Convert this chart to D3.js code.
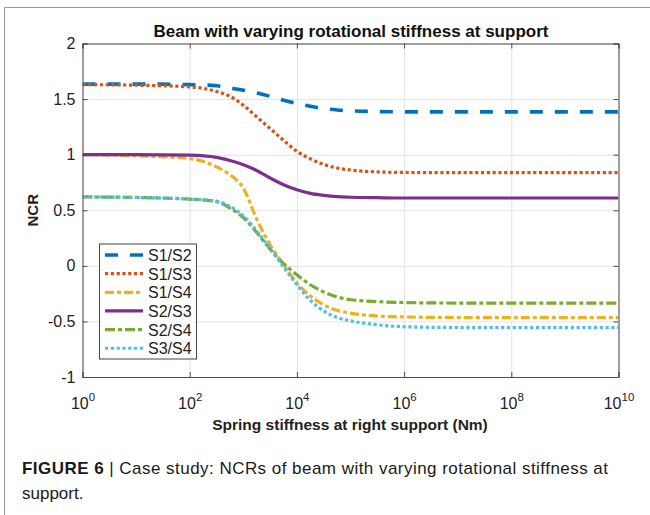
<!DOCTYPE html>
<html>
<head>
<meta charset="utf-8">
<script src="https://cdn.jsdelivr.net/npm/d3@7"></script>
<style>
  body { margin: 0; background: #fff; }
  svg { display: block; font-family: "Liberation Sans", Arial, sans-serif; }
</style>
</head>
<body>
<div id="plot"></div>
<script>
// exponents of the spring stiffness (10^k Nm) where values were read
const logK = [0, 1, 2, 2.5, 2.75, 3, 3.25, 3.5, 3.75, 4, 4.25, 4.5, 4.75, 5, 5.5, 6, 7, 8, 9, 10];

const s1s2 = [1.635, 1.635, 1.63, 1.62, 1.60, 1.58, 1.555, 1.525, 1.49, 1.46, 1.435, 1.415, 1.402, 1.395, 1.388, 1.385, 1.385, 1.385, 1.385, 1.385];
const s1s3 = [1.63, 1.625, 1.61, 1.568, 1.525, 1.445, 1.34, 1.235, 1.13, 1.03, 0.963, 0.912, 0.88, 0.862, 0.845, 0.84, 0.838, 0.838, 0.838, 0.838];
const s1s4 = [1.0, 0.99, 0.965, 0.89, 0.82, 0.70, 0.42, 0.19, 0.01, -0.155, -0.27, -0.351, -0.40, -0.425, -0.452, -0.46, -0.465, -0.466, -0.466, -0.466];
const s2s3 = [1.0, 1.0, 0.995, 0.975, 0.947, 0.91, 0.858, 0.79, 0.73, 0.685, 0.652, 0.634, 0.622, 0.617, 0.613, 0.61, 0.61, 0.61, 0.61, 0.61];
const s2s4 = [0.62, 0.615, 0.60, 0.578, 0.52, 0.435, 0.30, 0.15, 0.02, -0.08, -0.17, -0.235, -0.28, -0.305, -0.322, -0.33, -0.335, -0.336, -0.336, -0.336];
const s3s4 = [0.62, 0.615, 0.60, 0.582, 0.535, 0.45, 0.315, 0.155, -0.01, -0.17, -0.31, -0.405, -0.465, -0.495, -0.53, -0.548, -0.555, -0.556, -0.556, -0.556];

const seriesNames = ["S1/S2", "S1/S3", "S1/S4", "S2/S3", "S2/S4", "S3/S4"];
const seriesValues = [s1s2, s1s3, s1s4, s2s3, s2s4, s3s4];

const xTickExp = [0, 2, 4, 6, 8, 10];
const yTicks = [-1, -0.5, 0, 0.5, 1, 1.5, 2];

const styles = [
  { color: "#0072BD", dash: "13,12", width: 3.6 },
  { color: "#D95319", dash: "3.2,2.6", width: 3.2 },
  { color: "#EDB120", dash: "9,3,4,3", width: 3.2 },
  { color: "#7E2F8E", dash: null, width: 3.2 },
  { color: "#77AC30", dash: "10,3,4,3", width: 3.2 },
  { color: "#4DBEEE", dash: "3.2,2.6", width: 3.2 }
];

const W = 650, H = 515;
const pL = 82.5, pR = 618.5, pT = 43.5, pB = 377;

const svg = d3.select("#plot").append("svg")
  .attr("width", W)
  .attr("height", H);

svg.append("rect").attr("width", W).attr("height", H).attr("fill", "#fff");

// outer figure frame (cropped on the right and bottom)
svg.append("path")
  .attr("d", "M4.5," + H + "V7.5H" + W)
  .attr("fill", "none")
  .attr("stroke", "#999")
  .attr("stroke-width", 1);

const x = d3.scaleLog().domain([1, 1e10]).range([pL, pR]);
const y = d3.scaleLinear().domain([-1, 2]).range([pB, pT]);
const xTicks = xTickExp.map(e => Math.pow(10, e));

// grid
svg.append("g")
  .attr("class", "grid")
  .attr("transform", "translate(0," + pB + ")")
  .call(d3.axisBottom(x).tickValues(xTicks).tickSize(-(pB - pT)).tickFormat(""))
  .call(g => g.select(".domain").remove())
  .call(g => g.selectAll("line").attr("stroke", "#e3e3e3").attr("stroke-width", 1));
svg.append("g")
  .attr("class", "grid")
  .attr("transform", "translate(" + pL + ",0)")
  .call(d3.axisLeft(y).tickValues(yTicks).tickSize(-(pR - pL)).tickFormat(""))
  .call(g => g.select(".domain").remove())
  .call(g => g.selectAll("line").attr("stroke", "#e3e3e3").attr("stroke-width", 1));

// lines
const line = d3.line()
  .x((d, i) => x(Math.pow(10, logK[i])))
  .y(d => y(d))
  .curve(d3.curveMonotoneX);

svg.append("defs").append("clipPath").attr("id", "clip")
  .append("rect").attr("x", pL).attr("y", pT).attr("width", pR - pL).attr("height", pB - pT);

svg.append("g").attr("clip-path", "url(#clip)")
  .selectAll(".series")
  .data(seriesValues)
  .enter().append("path")
  .attr("class", "series")
  .attr("d", d => line(d))
  .attr("fill", "none")
  .attr("stroke", (d, i) => styles[i].color)
  .attr("stroke-width", (d, i) => styles[i].width)
  .attr("stroke-dasharray", (d, i) => styles[i].dash);

// axes box with inward ticks
const axisColor = "#4d4d4d";
const xb = svg.append("g").attr("class", "ax")
  .attr("transform", "translate(0," + pB + ")")
  .call(d3.axisBottom(x).tickValues(xTicks).tickSize(-5).tickPadding(9).tickFormat(""));
svg.append("g").attr("class", "ax")
  .attr("transform", "translate(0," + pT + ")")
  .call(d3.axisTop(x).tickValues(xTicks).tickSize(-5).tickFormat(""));
svg.append("g").attr("class", "ax")
  .attr("transform", "translate(" + pL + ",0)")
  .call(d3.axisLeft(y).tickValues(yTicks).tickSize(-5).tickPadding(7).tickFormat(d => String(d)))
  .call(g => g.selectAll("text").attr("font-size", 16).attr("fill", "#222")
    .attr("font-family", "'Liberation Sans', Arial, sans-serif"));
svg.append("g").attr("class", "ax")
  .attr("transform", "translate(" + pR + ",0)")
  .call(d3.axisRight(y).tickValues(yTicks).tickSize(-5).tickFormat(""));

svg.selectAll(".ax .domain").attr("stroke", axisColor);
svg.selectAll(".ax .tick line").attr("stroke", axisColor);

// x tick labels 10^k
xb.selectAll(".tick text").each(function(d) {
  const t = d3.select(this)
    .attr("font-size", 16)
    .attr("fill", "#222")
    .attr("font-family", "'Liberation Sans', Arial, sans-serif")
    .attr("dy", null)
    .attr("y", 32)
    .attr("text-anchor", "middle");
  t.text(null);
  t.append("tspan").text("10");
  t.append("tspan").attr("font-size", 11.5).attr("dy", -8).text(Math.round(Math.log10(d)));
});

// titles
svg.append("text")
  .attr("x", 351)
  .attr("y", 37)
  .attr("text-anchor", "middle")
  .attr("font-size", 17)
  .attr("font-weight", "bold")
  .attr("fill", "#111")
  .text("Beam with varying rotational stiffness at support");

svg.append("text")
  .attr("x", 350)
  .attr("y", 430)
  .attr("text-anchor", "middle")
  .attr("font-size", 15.5)
  .attr("font-weight", "bold")
  .attr("fill", "#222")
  .text("Spring stiffness at right support (Nm)");

svg.append("text")
  .attr("transform", "translate(38," + ((pT + pB) / 2) + ") rotate(-90)")
  .attr("text-anchor", "middle")
  .attr("font-size", 15)
  .attr("font-weight", "bold")
  .attr("fill", "#222")
  .text("NCR");

// legend
const lg = svg.append("g");
lg.append("rect")
  .attr("x", 99.5).attr("y", 244)
  .attr("width", 97).attr("height", 115)
  .attr("fill", "#fff")
  .attr("stroke", "#444")
  .attr("stroke-width", 1);

const ly = i => 255 + i * 18.65;
lg.selectAll(".legline")
  .data(seriesNames)
  .enter().append("line")
  .attr("class", "legline")
  .attr("x1", 105).attr("x2", 143)
  .attr("y1", (d, i) => ly(i)).attr("y2", (d, i) => ly(i))
  .attr("stroke", (d, i) => styles[i].color)
  .attr("stroke-width", (d, i) => styles[i].width)
  .attr("stroke-dasharray", (d, i) => styles[i].dash);

lg.selectAll(".legtext")
  .data(seriesNames)
  .enter().append("text")
  .attr("class", "legtext")
  .attr("x", 148)
  .attr("y", (d, i) => ly(i) + 6)
  .attr("font-size", 16)
  .attr("fill", "#222")
  .text(d => d);

// caption
const cap = svg.append("text")
  .attr("x", 22)
  .attr("y", 474)
  .attr("font-size", 17)
  .attr("fill", "#1a1a1a")
  .attr("textLength", 586)
  .attr("lengthAdjust", "spacing");
cap.append("tspan").attr("font-weight", "bold").text("FIGURE 6");
cap.append("tspan").text(" | Case study: NCRs of beam with varying rotational stiffness at");
svg.append("text")
  .attr("x", 22)
  .attr("y", 499)
  .attr("font-size", 17)
  .attr("fill", "#1a1a1a")
  .text("support.");
</script>
</body>
</html>
